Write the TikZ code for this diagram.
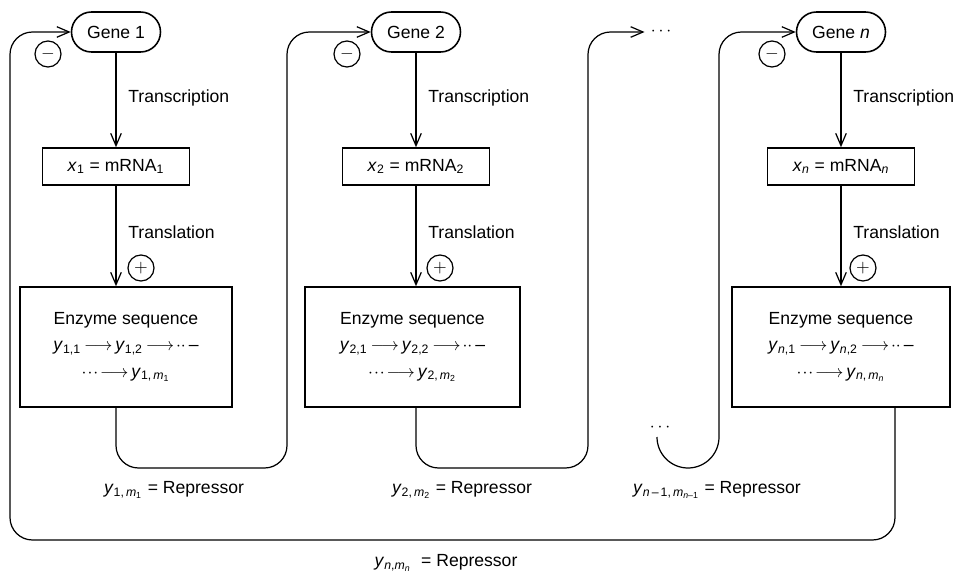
\documentclass[tikz,border=0pt]{standalone}
\usepackage{fontspec}
\setmainfont{Liberation Sans}
\usepackage{tikz}
\usetikzlibrary{arrows.meta}
\newcommand{\lo}[1]{\textsubscript{#1}}
\newcommand{\vi}[1]{\textit{#1}}
\tikzset{
  gene/.style={draw, line width=0.9pt, rounded corners=0.4cm, minimum width=1.78cm, minimum height=0.80cm, inner sep=0pt},
  mrna/.style={draw, line width=0.9pt, minimum width=2.94cm, minimum height=0.74cm, inner sep=0pt},
  enzyme/.style={draw, line width=0.9pt, minimum height=2.40cm, align=center, inner sep=0pt, font=\fontsize{10}{15}\selectfont},
  sign/.style={draw, circle, line width=0.7pt, minimum size=0.52cm, inner sep=0pt},
  link/.style={line width=0.7pt},
  loopback/.style={link, rounded corners=0.45cm},
  into/.style={-{Straight Barb[length=7pt,width=6pt]}},
  lab/.style={anchor=west, inner sep=0pt},
}

\begin{document}
\begin{tikzpicture}[font=\fontsize{10}{12}\selectfont]
\useasboundingbox (0,0) rectangle (19.22,11.48);
\node[gene] (g1) at (2.32,10.84) {Gene 1};
\node[gene] (g2) at (8.32,10.84) {Gene 2};
\node[gene] (gn) at (16.82,10.84) {Gene \vi{n}};
\node[sign] (s1) at (0.96,10.40) {$-$};
\node[sign] (s2) at (6.94,10.40) {$-$};
\node[sign] (sn) at (15.44,10.40) {$-$};
\node[mrna] (m1) at (2.32,8.15) {\vi{x}\lo{1} = mRNA\lo{1}};
\node[mrna] (m2) at (8.32,8.15) {\vi{x}\lo{2} = mRNA\lo{2}};
\node[mrna] (mn) at (16.82,8.15) {\vi{x}\lo{\vi{n}} = mRNA\lo{\vi{n}}};
\node[enzyme, minimum width=4.24cm] (e1) at (2.52,4.54) {Enzyme sequence\\ \vi{y}\lo{1,1}$\,\longrightarrow\,$\vi{y}\lo{1,2}$\,\longrightarrow\!\cdot\cdot\,$--\\ $\cdot\!\cdot\!\cdot\!\longrightarrow$\,\vi{y}\lo{1,\,\vi{m}\lo{1}}};
\node[enzyme, minimum width=4.30cm] (e2) at (8.25,4.54) {Enzyme sequence\\ \vi{y}\lo{2,1}$\,\longrightarrow\,$\vi{y}\lo{2,2}$\,\longrightarrow\!\cdot\cdot\,$--\\ $\cdot\!\cdot\!\cdot\!\longrightarrow$\,\vi{y}\lo{2,\,\vi{m}\lo{2}}};
\node[enzyme, minimum width=4.36cm] (en) at (16.82,4.54) {Enzyme sequence\\ \vi{y}\lo{\vi{n},1}$\,\longrightarrow\,$\vi{y}\lo{\vi{n},2}$\,\longrightarrow\!\cdot\cdot\,$--\\ $\cdot\!\cdot\!\cdot\!\longrightarrow$\,\vi{y}\lo{\vi{n},\,\vi{m}\lo{\vi{n}}}};
\node[lab] (t1) at (2.56,9.52) {Transcription};
\node[lab] (t2) at (8.56,9.52) {Transcription};
\node[lab] (tn) at (17.06,9.52) {Transcription};
\node[lab] (l1) at (2.56,6.84) {Translation};
\node[lab] (l2) at (8.56,6.84) {Translation};
\node[lab] (ln) at (17.06,6.84) {Translation};
\node[sign] (p1) at (2.82,6.12) {$+$};
\node[sign] (p2) at (8.80,6.12) {$+$};
\node[sign] (pn) at (17.26,6.12) {$+$};
\node (dd) at (13.22,10.84) {$\cdots$};
\node (dn) at (13.20,2.92) {$\cdots$};
\node (r1) at (3.48,1.68) {\vi{y}\lo{1,\,\vi{m}\lo{1}} = Repressor};
\node (r2) at (9.24,1.68) {\vi{y}\lo{2,\,\vi{m}\lo{2}} = Repressor};
\node (rm) at (14.34,1.68) {\vi{y}\lo{\vi{n}\,--\,1,\,\vi{m}\lo{\vi{n}--1}} = Repressor};
\node (rn) at (8.92,0.22) {\vi{y}\lo{\vi{n},\vi{m}\lo{\vi{n}}}\ \ = Repressor};
\coordinate (c1) at (5.74,2.12);
\coordinate (c2) at (11.76,2.12);
\coordinate (cu) at (13.14,2.74);
\coordinate (cb) at (0.20,0.68);
\draw[link, into] (g1) -- (m1);
\draw[link, into] (g2) -- (m2);
\draw[link, into] (gn) -- (mn);
\draw[link, into] (m1) -- (m1 |- e1.north);
\draw[link, into] (m2) -- (m2 |- e2.north);
\draw[link, into] (mn) -- (mn |- en.north);
\draw[loopback, into] (m1 |- e1.south) |- (c1) |- (g2.west);
\draw[loopback, into] (m2 |- e2.south) |- (c2) |- (dd.west);
\draw[link, into] (cu) arc[start angle=180, end angle=360, radius=0.62cm] [rounded corners=0.45cm] |- (gn.west);
\draw[loopback, into] ([xshift=1.08cm]en.south) |- (cb) |- (g1.west);
\end{tikzpicture}
\end{document}
